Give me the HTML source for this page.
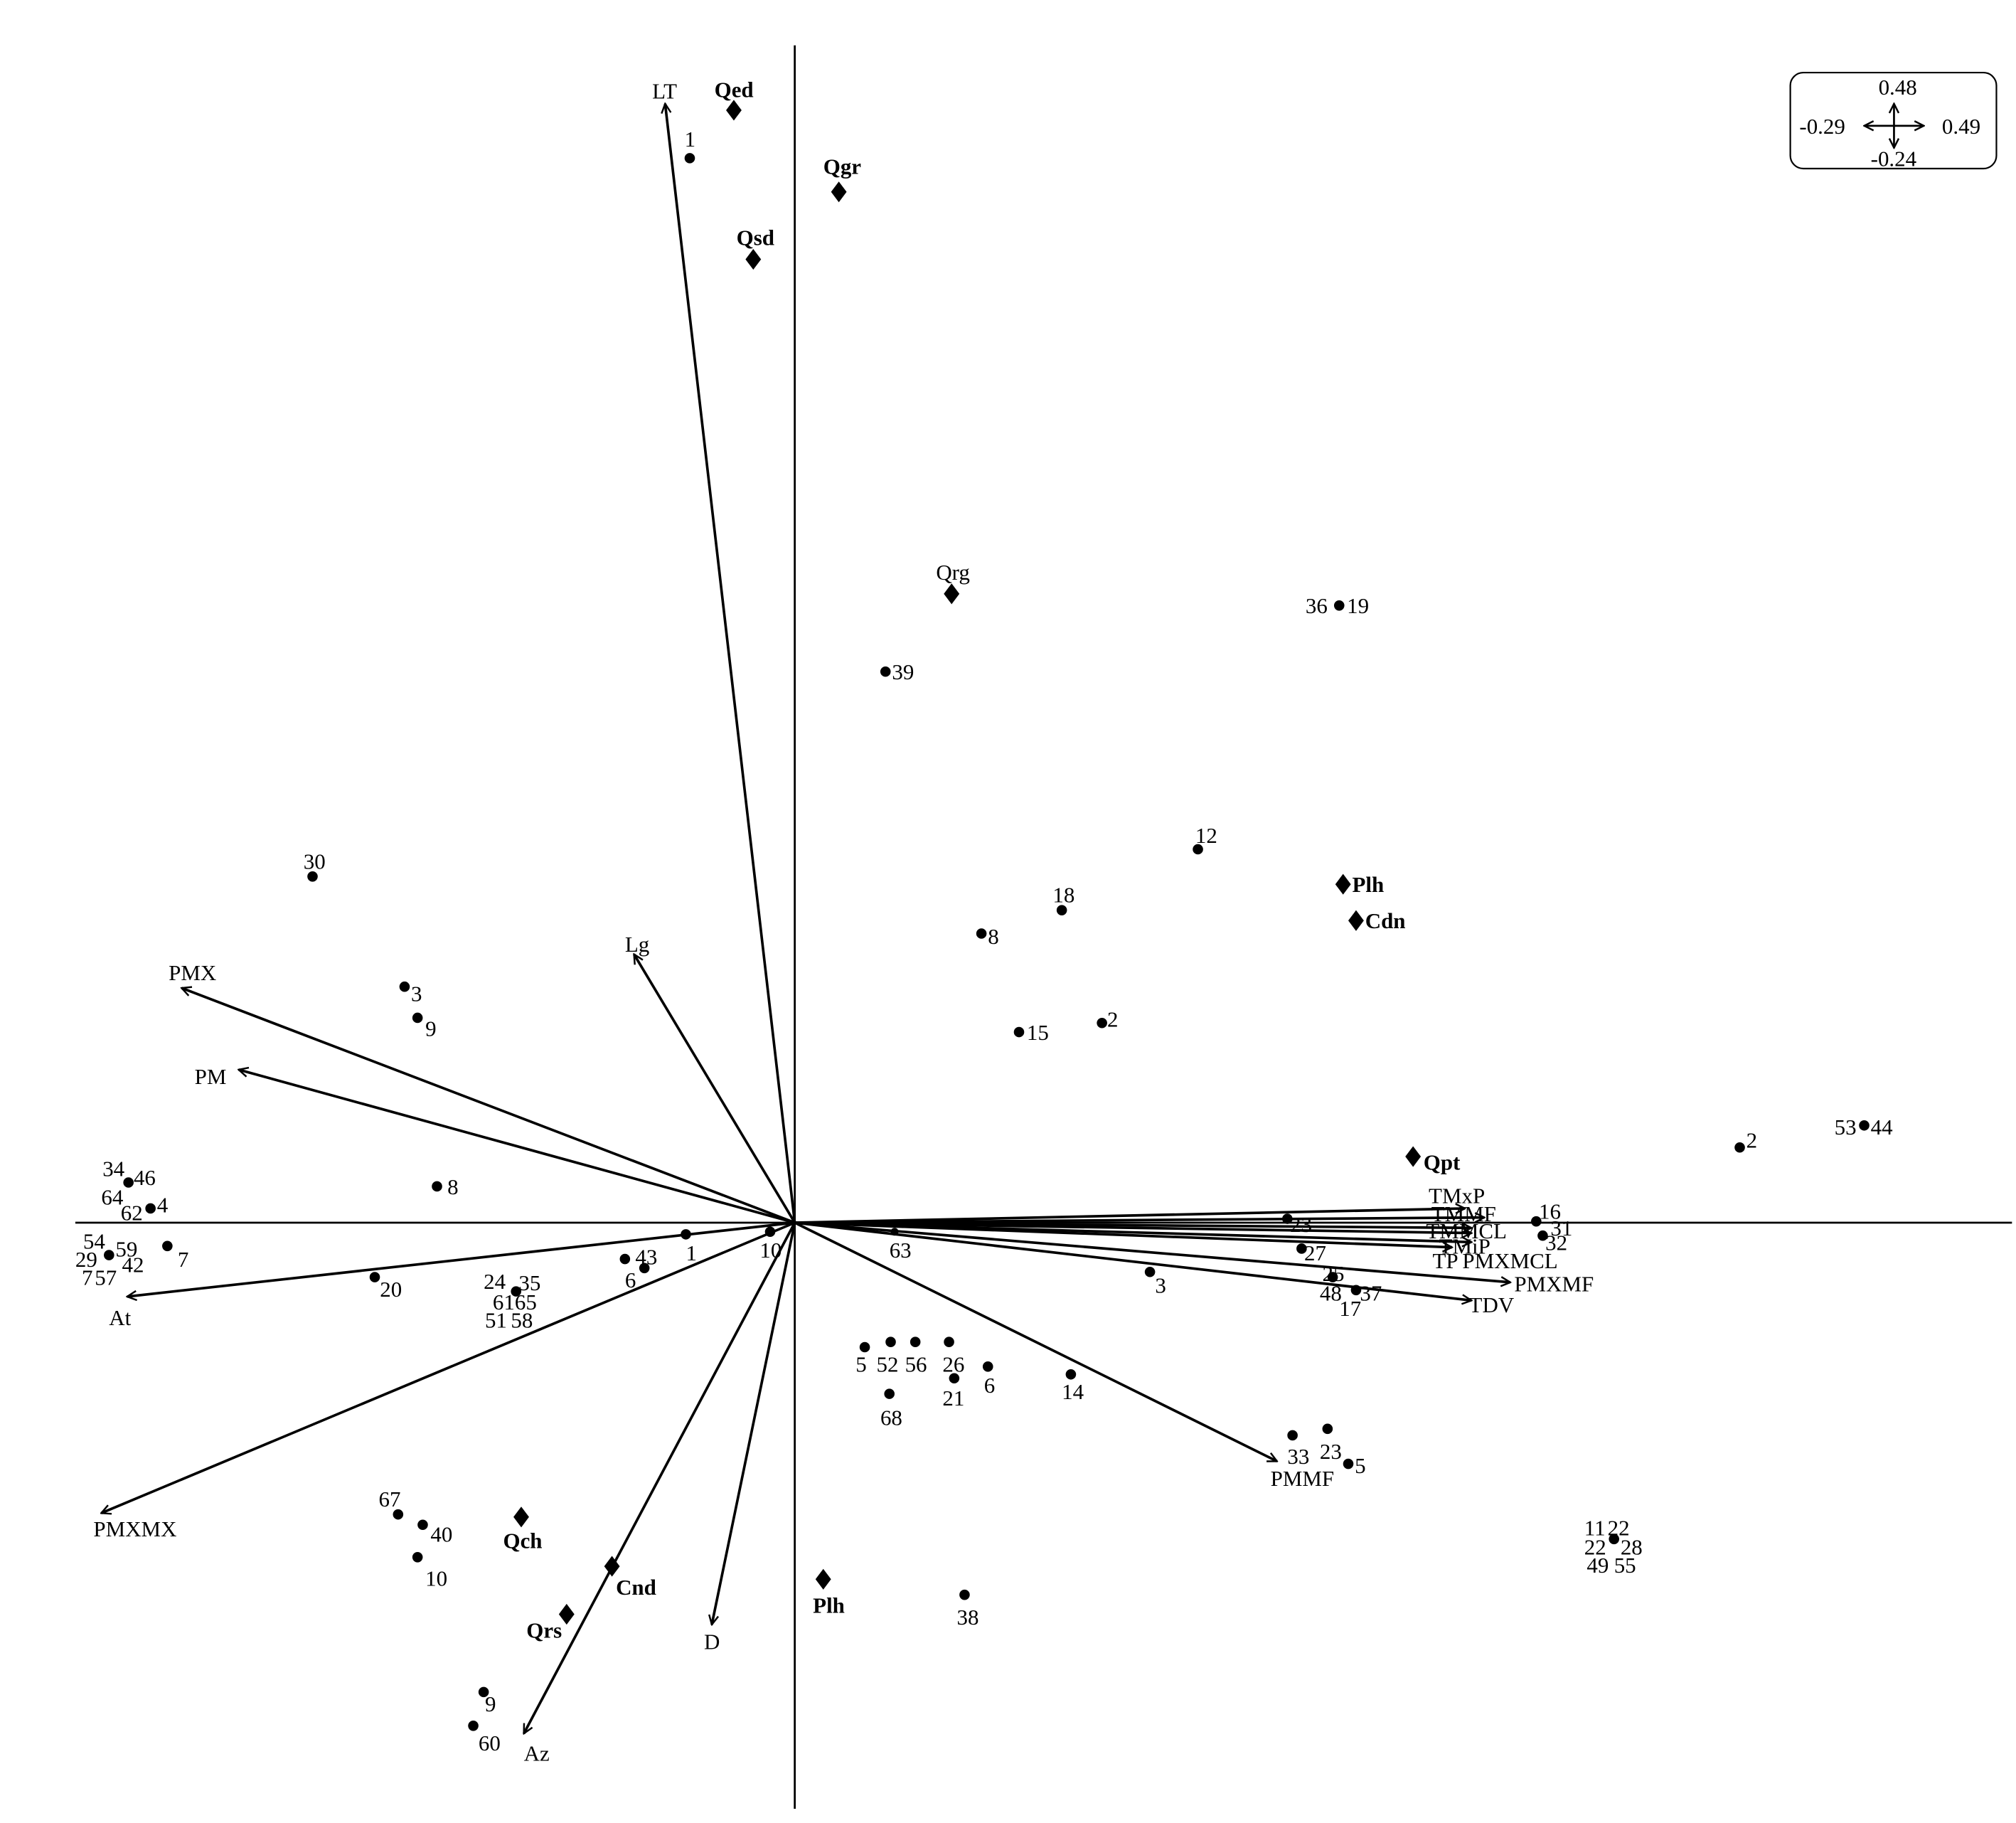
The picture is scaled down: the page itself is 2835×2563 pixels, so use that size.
<!DOCTYPE html>
<html><head><meta charset="utf-8"><style>
html,body{margin:0;padding:0;background:#fff}
svg{display:block}
text{font-family:"Liberation Serif",serif;font-size:17px;fill:#000}
.b{font-weight:bold}
</style></head><body>
<svg width="2835" height="2563" viewBox="0 0 1555 1406" xmlns="http://www.w3.org/2000/svg">
<defs><marker id="a" viewBox="0 0 10 10" refX="9" refY="5" markerWidth="9" markerHeight="9" orient="auto-start-reverse" markerUnits="userSpaceOnUse"><path d="M1,1 L9,5 L1,9" fill="none" stroke="#000" stroke-width="1.5"/></marker></defs>
<g stroke="#000" stroke-width="1.5">
<line x1="58" y1="943" x2="1552" y2="943"/>
<line x1="613" y1="35" x2="613" y2="1395"/>
</g>
<g stroke="#000" stroke-width="2" fill="none" marker-end="url(#a)">
<line x1="613" y1="943" x2="513" y2="80"/>
<line x1="613" y1="943" x2="489" y2="736"/>
<line x1="613" y1="943" x2="140" y2="762"/>
<line x1="613" y1="943" x2="184" y2="825"/>
<line x1="613" y1="943" x2="98" y2="1000"/>
<line x1="613" y1="943" x2="78" y2="1167"/>
<line x1="613" y1="943" x2="404" y2="1337"/>
<line x1="613" y1="943" x2="549" y2="1253"/>
<line x1="613" y1="943" x2="985" y2="1127"/>
<line x1="613" y1="943" x2="1135" y2="1003"/>
<line x1="613" y1="943" x2="1165" y2="989"/>
<line x1="613" y1="943" x2="1130" y2="932"/>
<line x1="613" y1="943" x2="1145" y2="939"/>
<line x1="613" y1="943" x2="1135" y2="947"/>
<line x1="613" y1="943" x2="1135" y2="951"/>
<line x1="613" y1="943" x2="1135" y2="958"/>
<line x1="613" y1="943" x2="1120" y2="962"/>
</g>
<g>
<text x="503" y="76">LT</text><text x="482" y="734">Lg</text>
<text x="130" y="756">PMX</text><text x="150" y="836">PM</text>
<text x="84" y="1022">At</text><text x="72" y="1185">PMXMX</text>
<text x="404" y="1358">Az</text><text x="543" y="1272">D</text>
<text x="980" y="1146">PMMF</text><text x="1133" y="1012">TDV</text>
<text x="1168" y="996">PMXMF</text><text x="1102" y="928">TMxP</text>
<text x="1104" y="942">TMMF</text><text x="1100" y="955">TMMCL</text>
<text x="1110" y="967">TMiP</text><text x="1105" y="978">TP</text><text x="1128" y="978">PMXMCL</text>
</g>
<g fill="#000">
<path d="M566,77 l6,8 l-6,8 l-6,-8z"/><path d="M647,140 l6,8 l-6,8 l-6,-8z"/>
<path d="M581,192 l6,8 l-6,8 l-6,-8z"/><path d="M734,450 l6,8 l-6,8 l-6,-8z"/>
<path d="M1036,674 l6,8 l-6,8 l-6,-8z"/><path d="M1046,702 l6,8 l-6,8 l-6,-8z"/>
<path d="M1090,884 l6,8 l-6,8 l-6,-8z"/><path d="M402,1162 l6,8 l-6,8 l-6,-8z"/>
<path d="M472,1200 l6,8 l-6,8 l-6,-8z"/><path d="M437,1237 l6,8 l-6,8 l-6,-8z"/>
<path d="M635,1210 l6,8 l-6,8 l-6,-8z"/>
</g>
<g>
<text class="b" x="551" y="75">Qed</text><text class="b" x="635" y="134">Qgr</text>
<text class="b" x="568" y="189">Qsd</text><text x="722" y="447">Qrg</text>
<text class="b" x="1043" y="688">Plh</text><text class="b" x="1053" y="716">Cdn</text>
<text class="b" x="1098" y="902">Qpt</text><text class="b" x="388" y="1194">Qch</text>
<text class="b" x="475" y="1230">Cnd</text><text class="b" x="406" y="1263">Qrs</text>
<text class="b" x="627" y="1244">Plh</text>
</g>
<g fill="#000">
<circle cx="532" cy="122" r="4"/><circle cx="1033" cy="467" r="4"/><circle cx="683" cy="518" r="4"/>
<circle cx="924" cy="655" r="4"/><circle cx="819" cy="702" r="4"/><circle cx="757" cy="720" r="4"/>
<circle cx="241" cy="676" r="4"/><circle cx="312" cy="761" r="4"/><circle cx="322" cy="785" r="4"/>
<circle cx="786" cy="796" r="4"/><circle cx="850" cy="789" r="4"/><circle cx="1342" cy="885" r="4"/>
<circle cx="1438" cy="868" r="4"/><circle cx="337" cy="915" r="4"/><circle cx="99" cy="912" r="4"/>
<circle cx="116" cy="932" r="4"/><circle cx="129" cy="961" r="4"/><circle cx="84" cy="968" r="4"/>
<circle cx="529" cy="952" r="4"/><circle cx="594" cy="950" r="4"/><circle cx="482" cy="971" r="4"/>
<circle cx="497" cy="978" r="4"/><circle cx="289" cy="985" r="4"/><circle cx="398" cy="996" r="4"/>
<circle cx="993" cy="940" r="4"/><circle cx="1185" cy="942" r="4"/><circle cx="1190" cy="953" r="4"/>
<circle cx="1004" cy="963" r="4"/><circle cx="887" cy="981" r="4"/><circle cx="1028" cy="985" r="4"/>
<circle cx="1046" cy="995" r="4"/><circle cx="667" cy="1039" r="4"/><circle cx="687" cy="1035" r="4"/>
<circle cx="706" cy="1035" r="4"/><circle cx="732" cy="1035" r="4"/><circle cx="762" cy="1054" r="4"/>
<circle cx="736" cy="1063" r="4"/><circle cx="826" cy="1060" r="4"/><circle cx="686" cy="1075" r="4"/>
<circle cx="997" cy="1107" r="4"/><circle cx="1024" cy="1102" r="4"/><circle cx="1040" cy="1129" r="4"/>
<circle cx="1245" cy="1187" r="4"/><circle cx="307" cy="1168" r="4"/><circle cx="326" cy="1176" r="4"/>
<circle cx="322" cy="1201" r="4"/><circle cx="744" cy="1230" r="4"/><circle cx="373" cy="1305" r="4"/>
<circle cx="365" cy="1331" r="4"/><circle cx="690" cy="950" r="3"/>
</g>
<g>
<text x="528" y="113">1</text><text x="1007" y="473">36</text><text x="1039" y="473">19</text>
<text x="688" y="524">39</text><text x="922" y="650">12</text><text x="812" y="696">18</text>
<text x="762" y="728">8</text><text x="234" y="670">30</text><text x="317" y="772">3</text>
<text x="328" y="799">9</text><text x="792" y="802">15</text><text x="854" y="792">2</text>
<text x="1347" y="885">2</text><text x="1415" y="875">53</text><text x="1443" y="875">44</text>
<text x="345" y="921">8</text><text x="79" y="907">34</text><text x="103" y="914">46</text>
<text x="78" y="929">64</text><text x="93" y="941">62</text><text x="121" y="935">4</text>
<text x="137" y="977">7</text><text x="64" y="963">54</text><text x="89" y="969">59</text>
<text x="58" y="977">29</text><text x="94" y="981">42</text><text x="63" y="991">7</text><text x="73" y="991">57</text>
<text x="529" y="972">1</text><text x="586" y="970">10</text><text x="490" y="975">43</text>
<text x="482" y="993">6</text><text x="293" y="1000">20</text><text x="373" y="994">24</text>
<text x="400" y="995">35</text><text x="380" y="1010">61</text><text x="397" y="1010">65</text>
<text x="374" y="1024">51</text><text x="394" y="1024">58</text><text x="686" y="970">63</text>
<text x="995" y="950">23</text><text x="1187" y="940">16</text><text x="1196" y="953">31</text>
<text x="1192" y="964">32</text><text x="1006" y="972">27</text><text x="891" y="997">3</text>
<text x="1020" y="988">25</text><text x="1018" y="1003">48</text><text x="1049" y="1003">37</text>
<text x="1033" y="1015">17</text><text x="660" y="1058">5</text><text x="676" y="1058">52</text>
<text x="698" y="1058">56</text><text x="727" y="1058">26</text><text x="759" y="1074">6</text>
<text x="727" y="1084">21</text><text x="819" y="1079">14</text><text x="679" y="1099">68</text>
<text x="993" y="1129">33</text><text x="1018" y="1125">23</text><text x="1045" y="1136">5</text>
<text x="1222" y="1184">11</text><text x="1240" y="1184">22</text><text x="1222" y="1199">22</text>
<text x="1250" y="1199">28</text><text x="1224" y="1213">49</text><text x="1245" y="1213">55</text>
<text x="292" y="1162">67</text><text x="332" y="1189">40</text><text x="328" y="1223">10</text>
<text x="738" y="1253">38</text><text x="374" y="1320">9</text><text x="369" y="1350">60</text>
</g>
<rect x="1381" y="56" width="159" height="74" rx="10" fill="none" stroke="#000" stroke-width="1.2"/>
<g stroke="#000" stroke-width="1.5" fill="none">
<line x1="1461" y1="80" x2="1461" y2="114" marker-start="url(#a)" marker-end="url(#a)"/>
<line x1="1438" y1="97" x2="1484" y2="97" marker-start="url(#a)" marker-end="url(#a)"/>
</g>
<text x="1449" y="73">0.48</text><text x="1388" y="103">-0.29</text>
<text x="1498" y="103">0.49</text><text x="1443" y="128">-0.24</text>
</svg>
</body></html>
